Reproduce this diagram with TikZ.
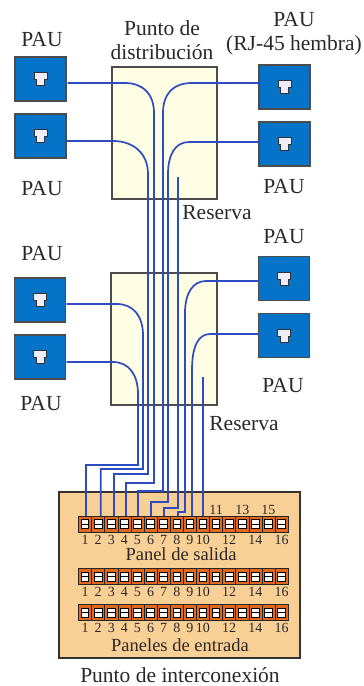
\documentclass[tikz,border=0pt]{standalone}
\usepackage{fontspec}
\setmainfont{Liberation Serif}
\definecolor{paublue}{RGB}{5,115,200}
\definecolor{wireblue}{RGB}{45,75,195}
\definecolor{cream}{RGB}{255,253,228}
\definecolor{tan}{RGB}{248,208,150}
\definecolor{cellor}{RGB}{225,105,30}
\definecolor{inktext}{RGB}{45,40,40}
\tikzset{
 paubox/.style={draw=black!70,line width=1.1pt,fill=paublue,minimum width=51pt,minimum height=44pt,inner sep=0pt,outer sep=0pt},
 distbox/.style={draw=black!70,line width=1.1pt,fill=cream,inner sep=0pt,outer sep=0pt},
 panelbase/.style={draw=black!80,line width=1.1pt,fill=tan,inner sep=0pt,outer sep=0pt},
 cellbox/.style={draw=black!85,line width=.6pt,fill=cellor,minimum width=13.1pt,minimum height=16pt,inner sep=0pt,outer sep=0pt},
 wire/.style={draw=wireblue,line width=1.7pt},
 lbl/.style={text=inktext,font=\fontsize{21.5}{24}\selectfont,inner sep=0pt,align=center},
 nlbl/.style={text=inktext,font=\fontsize{14}{15}\selectfont,inner sep=0pt},
 tlbl/.style={text=inktext,font=\fontsize{18.5}{20}\selectfont,inner sep=0pt},
}
\newcommand{\jack}[1]{%
 \fill[white!93!blue,draw=black!80,line width=.8pt] ([shift={(-6.5,-6.5)}]#1) -- ++(13,0) -- ++(0,7) -- ++(-2.5,0) -- ++(0,6) -- ++(-8,0) -- ++(0,-6) -- ++(-2.5,0) -- cycle;}
\begin{document}
\begin{tikzpicture}[x=1pt,y=-1pt]
\useasboundingbox (0,0) rectangle (364,686);
% distribution boxes
\node[distbox,minimum width=105pt,minimum height=132pt] (d1) at (164.5,133) {};
\node[distbox,minimum width=106pt,minimum height=132pt] (d2) at (164,339) {};
% interconnection panel
\node[panelbase,minimum width=241pt,minimum height=166pt] (base) at (179.5,575) {};
% PAU
\node[paubox] (la) at (40.5,79) {};
\node[paubox] (lb) at (40.5,136) {};
\node[paubox] (ra) at (284.5,87) {};
\node[paubox] (rb) at (284.5,144) {};
\node[paubox] (lc) at (40,300) {};
\node[paubox] (ld) at (40,357) {};
\node[paubox] (rc) at (284,278.5) {};
\node[paubox] (rd) at (284,335.5) {};
\foreach \n in {la,lb,ra,rb,lc,ld,rc,rd}{\jack{\n.center}}
% panels
\foreach \yy/\pn in {524/p,576.5/q,612.5/r}{
 \foreach \i in {1,...,16}{
  \node[cellbox] (\pn\i) at ({78.5+13.1*(\i-.5)},\yy) {};
  \fill[white,draw=black,line width=.9pt] ([shift={(-3.8,-4.5)}]\pn\i.center) rectangle ([shift={(3.8,4.5)}]\pn\i.center);
  \draw[black,line width=.9pt] ([shift={(-3.8,0)}]\pn\i.center) -- ([shift={(3.8,0)}]\pn\i.center);
 }
}
% wires
\coordinate (t1) at (178,177);
\coordinate (t2) at (203,377);
\draw[wire] (la.east) ++(1.5,4) -- (125,83) .. controls (143,83) and (154,94) .. (154,113) -- (154,483) -| ([xshift=1.7]p4.north);
\draw[wire] (lb.east) ++(1,5) -- (113,141) .. controls (133,141) and (148,153) .. (148,174) -- (148,474) -| ([xshift=2.8]p3.north);
\draw[wire] (lc.east) ++(1,4) -- (117,304) .. controls (133,304) and (143,316) .. (143,335) -- (143,469) -| ([xshift=2.6]p2.north);
\draw[wire] (ld.east) ++(1,5) -- (113,362) .. controls (129,362) and (138,375) .. (138,394) -- (138,465) -| ([xshift=1]p1.north);
\draw[wire] (ra.west) ++(0,-4) -- (192,83) .. controls (173,83) and (163,94) .. (163,113) -- (163,491) -| ([xshift=.6]p5.north);
\draw[wire] (rb.west) ++(0,-2) -- (189,142) .. controls (175,142) and (168,155) .. (168,174) -- (168,502) -| ([xshift=.5]p6.north);
\draw[wire] (t1) -- (178,508) -| ([xshift=.4]p7.north);
\draw[wire] (rc.west) ++(0,2.5) -- (206,281) .. controls (193,281) and (185,293) .. (185,313) -- (185,512) -| ([xshift=1.3]p8.north);
\draw[wire] (rd.west) ++(0,-1.5) -- (210,334) .. controls (198,334) and (192,347) .. (192,370) -- ([xshift=2.2]p9.north);
\draw[wire] (t2) -- ([xshift=.1]p10.north);
% labels
\node[lbl] (tla) at (42,39.5) {PAU};
\node[lbl] (tlb) at (42,188.5) {PAU};
\node[lbl] (tdp) at (162,40.5) {Punto de\\distribución};
\node[lbl] (tra) at (294,33.5) {PAU\\(RJ-45 hembra)};
\node[lbl] (trb) at (284,186.5) {PAU};
\node[lbl] (trc) at (284,236.5) {PAU};
\node[lbl] (trd) at (283,385.5) {PAU};
\node[lbl] (tlc) at (42,253.5) {PAU};
\node[lbl] (tld) at (41,403.5) {PAU};
\node[lbl] (tr1) at (217,212.5) {Reserva};
\node[lbl] (tr2) at (244,423.5) {Reserva};
\foreach \pn/\yy in {p/539.5,q/592,r/628}{
 \foreach \i in {1,...,10,12,14,16}{
  \node[nlbl] (\pn n\i) at (\pn\i.center |- 0,\yy) {\i};
 }
}
\foreach \i in {11,13,15}{\node[nlbl] (pn\i) at (p\i.center |- 0,510) {\i};}
\node[tlbl] (ts) at (181,554.5) {Panel de salida};
\node[tlbl] (te) at (180,645) {Paneles de entrada};
\node[lbl] (ti) at (180,675) {Punto de interconexión};
\end{tikzpicture}
\end{document}
